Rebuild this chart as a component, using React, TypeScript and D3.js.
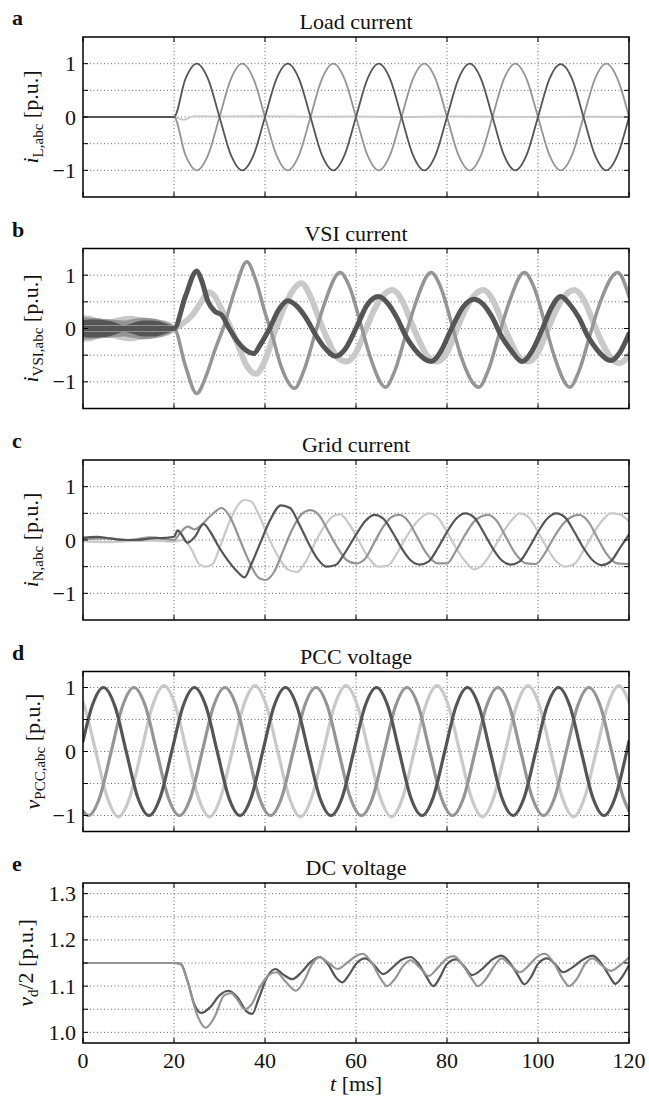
import React from 'react';
import * as d3 from 'd3';

type Pt = [number, number];

const W = 649;
const H = 1097;
const LEFT = 83;
const RIGHT = 629;
const PANEL_TOPS = [37, 248.5, 460, 671.5, 883];
const PANEL_H = 160;
const FONT = "'Liberation Serif', 'Times New Roman', serif";

const C_DARK = '#555555';
const C_MID = '#959595';
const C_LIGHT = '#c9c9c9';

const xTicks = [0, 20, 40, 60, 80, 100, 120];
const acGrid = [-1, -0.5, 0, 0.5, 1];
const acLabels = [-1, 0, 1];
const dcGrid = [1.0, 1.05, 1.1, 1.15, 1.2, 1.25, 1.3];
const dcLabels = [1.0, 1.1, 1.2, 1.3];

// ---------- a: Load current ----------
const aDark: Pt[] = [[0,0],[20,0],[22.5,0.71],[25,1],[27.5,0.71],[30,0],[32.5,-0.71],[35,-1],[37.5,-0.71],[40,0],[42.5,0.71],[45,1],[47.5,0.71],[50,0],[52.5,-0.71],[55,-1],[57.5,-0.71],[60,0],[62.5,0.71],[65,1],[67.5,0.71],[70,0],[72.5,-0.71],[75,-1],[77.5,-0.71],[80,0],[82.5,0.71],[85,1],[87.5,0.71],[90,0],[92.5,-0.71],[95,-1],[97.5,-0.71],[100,0],[102.5,0.71],[105,0.99],[107.5,0.71],[110,0],[112.5,-0.71],[115,-1],[117.5,-0.71],[120,0]];
const aMid: Pt[] = [[0,0],[20,0],[22.5,-0.71],[25,-1],[27.5,-0.71],[30,0],[32.5,0.71],[35,1],[37.5,0.71],[40,0],[42.5,-0.71],[45,-1],[47.5,-0.71],[50,0],[52.5,0.71],[55,1],[57.5,0.71],[60,0],[62.5,-0.71],[65,-1],[67.5,-0.71],[70,0],[72.5,0.71],[75,1],[77.5,0.71],[80,0],[82.5,-0.71],[85,-1],[87.5,-0.71],[90,0],[92.5,0.71],[95,1],[97.5,0.71],[100,0],[102.5,-0.71],[105,-1],[107.5,-0.71],[110,0],[112.5,0.71],[115,1],[117.5,0.71],[120,0]];
const aLight: Pt[] = [[0,0],[20,0],[20.8,-0.02],[21.8,-0.05],[22.8,-0.04],[23.6,0],[25,0.015],[30,0.01],[40,0.015],[50,0.005],[60,0.01],[70,0],[80,0.01],[90,0.005],[100,0],[110,0.005],[120,0]];

// ---------- b: VSI current ----------
const bDark: Pt[] = [[0,0],[20,0],[22.5,0.6],[25,1.08],[26,0.92],[27.5,0.5],[29,0.32],[30.5,0.25],[32,0.02],[34,-0.25],[36,-0.42],[37.5,-0.47],[39,-0.3],[41,0],[43,0.35],[45,0.52],[47,0.42],[49,0.2],[51,-0.1],[53,-0.35],[55.5,-0.52],[57.5,-0.4],[60,0],[62.5,0.45],[65,0.6],[67,0.47],[69,0.2],[71,-0.15],[73,-0.4],[76.5,-0.62],[78.5,-0.45],[81,0],[83.5,0.4],[86,0.55],[88,0.45],[90,0.2],[92,-0.15],[94,-0.4],[96.5,-0.62],[98.5,-0.45],[101,0],[103,0.4],[105,0.6],[107,0.45],[109,0.2],[111,-0.15],[113,-0.4],[116,-0.6],[118,-0.45],[120,-0.1]];
const bMid: Pt[] = [[0,0],[20,0],[22.5,-0.7],[25,-1.22],[27,-0.9],[29,-0.4],[31,0.05],[33.5,0.75],[36,1.25],[38,0.9],[40,0.3],[41.5,-0.1],[43.5,-0.7],[46.5,-1.12],[48.5,-0.8],[51,-0.1],[53,0.45],[56.5,1.05],[58.5,0.8],[61,0.1],[63,-0.5],[66.5,-1.1],[68.5,-0.8],[71,-0.1],[73,0.45],[76.5,1.05],[78.5,0.8],[81,0.1],[83,-0.5],[87,-1.1],[89,-0.8],[91.5,-0.1],[93.5,0.45],[97,1.05],[99,0.8],[101.5,0.1],[103.5,-0.5],[107,-1.1],[109,-0.8],[111.5,-0.1],[113.5,0.45],[117.5,1.05],[120,0.6]];
const bLight: Pt[] = [[0,0],[20,0],[22,0.1],[24,0.25],[26,0.5],[27.5,0.68],[29,0.6],[30.5,0.35],[32,0.1],[34,-0.3],[36,-0.7],[38,-0.85],[40,-0.6],[42,-0.1],[44,0.35],[46,0.7],[48,0.85],[50,0.6],[52,0.15],[54,-0.25],[56,-0.55],[58,-0.62],[60,-0.45],[62,-0.05],[64,0.35],[66,0.62],[68,0.72],[70,0.55],[72,0.15],[74,-0.25],[76,-0.55],[78,-0.62],[80,-0.45],[82,-0.05],[84,0.35],[86,0.62],[88,0.72],[90,0.55],[92,0.15],[94,-0.25],[96,-0.55],[98,-0.62],[100,-0.45],[102,-0.05],[104,0.35],[106,0.62],[108,0.72],[110,0.55],[112,0.15],[114,-0.25],[116,-0.55],[118,-0.65],[120,-0.5]];
// pre-step switching ripple (half-width of the band around zero)
const bBandT = [0, 1.5, 3, 4.5, 6, 7.5, 9, 10.5, 12, 13.5, 15, 16.5, 18, 19.5, 20.5];
const bDarkHW = [0.15, 0.17, 0.17, 0.16, 0.14, 0.1, 0.06, 0.09, 0.13, 0.15, 0.15, 0.14, 0.1, 0.05, 0.01];
const bLightHW = [0.25, 0.24, 0.2, 0.18, 0.18, 0.2, 0.23, 0.24, 0.22, 0.2, 0.18, 0.17, 0.15, 0.1, 0.03];
const bMidHW = [0.21, 0.2, 0.19, 0.18, 0.17, 0.16, 0.15, 0.17, 0.19, 0.2, 0.19, 0.17, 0.13, 0.08, 0.02];

// ---------- c: Grid current ----------
const cDark: Pt[] = [[0,0.04],[3,0.06],[6,0.03],[9,0],[12,0],[15,0.03],[18,0.04],[20,0.06],[20.8,0.18],[21.5,0.12],[23,-0.05],[24.5,0.05],[26.5,0.3],[28,0.15],[30,-0.15],[32,-0.4],[34,-0.6],[35.5,-0.7],[37,-0.45],[39,-0.05],[41,0.35],[43.5,0.65],[45.5,0.6],[47.5,0.3],[49.5,-0.05],[51.5,-0.35],[53.5,-0.5],[55.5,-0.47],[57.5,-0.25],[60,0.1],[62,0.35],[64,0.47],[66,0.4],[68,0.15],[70,-0.15],[72,-0.38],[74,-0.46],[76,-0.4],[78,-0.15],[80,0.15],[82,0.4],[84,0.5],[86,0.42],[88,0.15],[90,-0.15],[92,-0.38],[94,-0.46],[96,-0.4],[98,-0.15],[100,0.15],[102,0.4],[104,0.5],[106,0.42],[108,0.15],[110,-0.15],[112,-0.38],[114,-0.47],[116,-0.4],[118,-0.15],[120,0.1]];
const cMid: Pt[] = [[0,0.02],[5,0.03],[10,0],[15,0.05],[20,0],[21.5,0.15],[23,0.25],[24.5,0.2],[26,0.28],[28,0.45],[30.5,0.6],[32.5,0.4],[34.5,0],[36.5,-0.4],[38.5,-0.7],[40,-0.75],[42,-0.6],[44,-0.2],[46,0.2],[48,0.48],[50,0.56],[52,0.45],[54,0.15],[56,-0.15],[58,-0.38],[60,-0.44],[62,-0.35],[64,-0.05],[66,0.25],[68,0.44],[69.5,0.47],[71.5,0.35],[73.5,0.05],[75.5,-0.25],[78,-0.44],[80,-0.44],[82,-0.2],[84,0.1],[86,0.35],[89,0.47],[91,0.35],[93,0.05],[95,-0.25],[97.5,-0.44],[99.5,-0.45],[101.5,-0.25],[103.5,0.05],[105.5,0.3],[109,0.47],[111,0.35],[113,0.05],[115,-0.25],[117.5,-0.44],[120,-0.45]];
const cLight: Pt[] = [[0,-0.02],[5,-0.04],[10,-0.02],[15,-0.01],[20,-0.03],[22,0],[24,-0.2],[25.5,-0.45],[27,-0.5],[28.5,-0.45],[30,-0.15],[32,0.3],[34,0.65],[35.5,0.75],[37,0.72],[38.5,0.5],[40.5,0.1],[42.5,-0.25],[45,-0.55],[47,-0.6],[49,-0.4],[51,-0.05],[53,0.25],[55,0.45],[56.5,0.48],[58.5,0.3],[60.5,0],[62.5,-0.3],[65,-0.5],[67,-0.48],[69,-0.25],[71,0.05],[73,0.3],[76,0.5],[78,0.42],[80,0.15],[82,-0.15],[84,-0.4],[86,-0.55],[88,-0.45],[90,-0.2],[92,0.1],[94,0.35],[96,0.5],[98,0.42],[100,0.15],[102,-0.15],[104,-0.4],[106,-0.5],[108,-0.45],[110,-0.2],[112,0.1],[114,0.35],[116,0.5],[118,0.48],[120,0.35]];

// ---------- d: PCC voltage ----------
const dDark: Pt[] = [[0,0.16],[2,0.71],[4.5,1],[7,0.71],[9.5,0],[12,-0.71],[14.5,-1],[17,-0.71],[19.5,0],[22,0.71],[24.5,1],[27,0.71],[29.5,0],[32,-0.71],[34.5,-1],[37,-0.71],[39.5,0],[42,0.71],[44.5,1],[47,0.71],[49.5,0],[52,-0.71],[54.5,-1],[57,-0.71],[59.5,0],[62,0.71],[64.5,1],[67,0.71],[69.5,0],[72,-0.71],[74.5,-1],[77,-0.71],[79.5,0],[82,0.71],[84.5,1],[87,0.71],[89.5,0],[92,-0.71],[94.5,-1],[97,-0.71],[99.5,0],[102,0.71],[104.5,1],[107,0.71],[109.5,0],[112,-0.71],[114.5,-1],[117,-0.71],[119.5,0],[120,0.16]];
const dMid: Pt[] = [[0,-0.93],[1.2,-1],[3.7,-0.71],[6.2,0],[8.7,0.71],[11.2,1],[13.7,0.71],[16.2,0],[18.7,-0.71],[21.2,-1],[23.7,-0.71],[26.2,0],[28.7,0.71],[31.2,1],[33.7,0.71],[36.2,0],[38.7,-0.71],[41.2,-1],[43.7,-0.71],[46.2,0],[48.7,0.71],[51.2,1],[53.7,0.71],[56.2,0],[58.7,-0.71],[61.2,-1],[63.7,-0.71],[66.2,0],[68.7,0.71],[71.2,1],[73.7,0.71],[76.2,0],[78.7,-0.71],[81.2,-1],[83.7,-0.71],[86.2,0],[88.7,0.71],[91.2,1],[93.7,0.71],[96.2,0],[98.7,-0.71],[101.2,-1],[103.7,-0.71],[106.2,0],[108.7,0.71],[111.2,1],[113.7,0.71],[116.2,0],[118.7,-0.71],[120,-0.93]];
const dLight: Pt[] = [[0,0.77],[0.3,0.71],[2.8,0],[5.3,-0.71],[7.8,-1.02],[10.3,-0.71],[12.8,0],[15.3,0.72],[17.8,1.03],[20.3,0.72],[22.8,0],[25.3,-0.71],[27.8,-1.02],[30.3,-0.71],[32.8,0],[35.3,0.72],[37.8,1.03],[40.3,0.72],[42.8,0],[45.3,-0.71],[47.8,-1.02],[50.3,-0.71],[52.8,0],[55.3,0.72],[57.8,1.03],[60.3,0.72],[62.8,0],[65.3,-0.71],[67.8,-1.02],[70.3,-0.71],[72.8,0],[75.3,0.72],[77.8,1.03],[80.3,0.72],[82.8,0],[85.3,-0.71],[87.8,-1.02],[90.3,-0.71],[92.8,0],[95.3,0.72],[97.8,1.03],[100.3,0.72],[102.8,0],[105.3,-0.71],[107.8,-1.02],[110.3,-0.71],[112.8,0],[115.3,0.72],[117.8,1.03],[120,0.77]];

// ---------- e: DC voltage ----------
const eDark: Pt[] = [[0,1.15],[20,1.15],[21.5,1.148],[23,1.11],[24.5,1.06],[26,1.042],[28,1.055],[30,1.08],[32,1.09],[34,1.075],[36,1.045],[37.2,1.04],[38.5,1.07],[40.5,1.12],[42.3,1.137],[44,1.125],[46,1.115],[48,1.13],[50,1.152],[52,1.163],[54,1.145],[55.5,1.12],[57,1.108],[58.5,1.125],[60,1.148],[62,1.16],[64,1.145],[66,1.126],[68,1.14],[70,1.157],[72,1.163],[74,1.145],[75.5,1.12],[77,1.1],[78.5,1.12],[80,1.148],[82,1.158],[84,1.14],[85.5,1.124],[87.5,1.135],[90,1.158],[92,1.166],[94,1.148],[95.5,1.125],[97,1.104],[98.5,1.12],[100,1.148],[102,1.16],[104,1.145],[105.5,1.13],[107.5,1.14],[110,1.158],[112,1.166],[114,1.148],[115.5,1.125],[117,1.105],[118.5,1.12],[120,1.145]];
const eMid: Pt[] = [[0,1.15],[20,1.15],[21.5,1.147],[23,1.11],[25,1.04],[27,1.01],[29,1.035],[31,1.08],[32.5,1.085],[34,1.07],[35.5,1.05],[37,1.06],[39,1.1],[41,1.125],[42.5,1.13],[44.5,1.11],[46.8,1.09],[48.5,1.11],[50.5,1.15],[52,1.162],[54,1.15],[56,1.137],[58,1.15],[60,1.165],[61.5,1.17],[63.5,1.15],[65.5,1.115],[66.8,1.1],[68.5,1.115],[70.5,1.145],[72,1.156],[74,1.14],[76,1.122],[78,1.14],[80,1.16],[81.5,1.165],[83.5,1.145],[85.5,1.115],[86.8,1.1],[88.5,1.115],[90.5,1.145],[92,1.16],[94,1.145],[96,1.13],[98,1.145],[100,1.165],[101.5,1.17],[103.5,1.15],[105.5,1.115],[106.8,1.1],[108.5,1.115],[110.5,1.15],[112,1.16],[114,1.145],[116,1.133],[118,1.145],[120,1.162]];

type Series = { data: Pt[]; color: string; width: number };
type Band = { t: number[]; hw: number[]; color: string };

interface PanelProps {
  idx: number;
  top: number;
  yDomain: [number, number];
  yGrid: number[];
  yLabels: number[];
  fmt: (v: number) => string;
  series: Series[];
  bands?: Band[];
  title: string;
  letter: string;
  yMain: string;
  ySub: string;
  yRest: string;
  yLabelX: number;
  showX: boolean;
}

function Panel(p: PanelProps) {
  const x = d3.scaleLinear().domain([0, 120]).range([LEFT, RIGHT]);
  const y = d3.scaleLinear().domain(p.yDomain).range([p.top + PANEL_H, p.top]);
  const line = d3.line<Pt>().x((d) => x(d[0])).y((d) => y(d[1])).curve(d3.curveMonotoneX);
  const bottom = p.top + PANEL_H;
  const cx = (LEFT + RIGHT) / 2;
  const cy = p.top + PANEL_H / 2;
  const clipId = `clip-${p.idx}`;
  const tickLen = 5;
  return (
    <g>
      <defs>
        <clipPath id={clipId}>
          <rect x={LEFT} y={p.top} width={RIGHT - LEFT} height={PANEL_H} />
        </clipPath>
      </defs>
      {xTicks.slice(1, -1).map((t) => (
        <line key={'gx' + t} x1={x(t)} x2={x(t)} y1={p.top} y2={bottom} stroke="#666" strokeWidth={1} strokeDasharray="1,2.5" />
      ))}
      {p.yGrid.map((v) => (
        <line key={'gy' + v} x1={LEFT} x2={RIGHT} y1={y(v)} y2={y(v)} stroke="#666" strokeWidth={1} strokeDasharray="1,2.5" />
      ))}
      <g clipPath={`url(#${clipId})`}>
        {(p.bands || []).map((b, i) => {
          const pts = b.t.map((t, k) => ({ t, lo: -b.hw[k], hi: b.hw[k] }));
          const area = d3
            .area<{ t: number; lo: number; hi: number }>()
            .x((d) => x(d.t))
            .y0((d) => y(d.lo))
            .y1((d) => y(d.hi))
            .curve(d3.curveMonotoneX);
          return <path key={'b' + i} d={area(pts) || ''} fill={b.color} />;
        })}
        {p.series.map((s, i) => (
          <path
            key={'s' + i}
            d={line(s.data) || ''}
            fill="none"
            stroke={s.color}
            strokeWidth={s.width}
            strokeLinejoin="round"
            strokeLinecap="round"
          />
        ))}
      </g>
      {xTicks.map((t) => (
        <g key={'tx' + t}>
          <line x1={x(t)} x2={x(t)} y1={bottom} y2={bottom - tickLen} stroke="#000" strokeWidth={1} />
          <line x1={x(t)} x2={x(t)} y1={p.top} y2={p.top + tickLen} stroke="#000" strokeWidth={1} />
        </g>
      ))}
      {p.yGrid.map((v) => (
        <g key={'ty' + v}>
          <line x1={LEFT} x2={LEFT + tickLen} y1={y(v)} y2={y(v)} stroke="#000" strokeWidth={1} />
          <line x1={RIGHT} x2={RIGHT - tickLen} y1={y(v)} y2={y(v)} stroke="#000" strokeWidth={1} />
        </g>
      ))}
      <rect x={LEFT} y={p.top} width={RIGHT - LEFT} height={PANEL_H} fill="none" stroke="#000" strokeWidth={1.5} />
      {p.yLabels.map((v) => (
        <text key={'ly' + v} x={76} y={y(v) + 7.5} textAnchor="end" fontSize={22} fontFamily={FONT} fill="#111">
          {p.fmt(v)}
        </text>
      ))}
      {p.showX &&
        xTicks.map((t) => (
          <text key={'lx' + t} x={x(t)} y={bottom + 25} textAnchor="middle" fontSize={22} fontFamily={FONT} fill="#111">
            {String(t)}
          </text>
        ))}
      {p.showX && (
        <text x={cx} y={bottom + 48} textAnchor="middle" fontSize={22} fontFamily={FONT} fill="#111">
          <tspan fontStyle="italic">t</tspan>
          <tspan> [ms]</tspan>
        </text>
      )}
      <text x={cx} y={p.top - 8} textAnchor="middle" fontSize={22} fontFamily={FONT} fill="#111">
        {p.title}
      </text>
      <text x={12} y={p.top - 12} fontSize={22} fontWeight="bold" fontFamily={FONT} fill="#111">
        {p.letter}
      </text>
      <text
        transform={`translate(${p.yLabelX},${cy}) rotate(-90)`}
        textAnchor="middle"
        fontSize={22}
        fontFamily={FONT}
        fill="#111"
      >
        <tspan fontStyle="italic">{p.yMain}</tspan>
        <tspan fontSize={15} dy={5}>
          {p.ySub}
        </tspan>
        <tspan dy={-5}>{p.yRest}</tspan>
      </text>
    </g>
  );
}

const acFmt = (v: number) => (v < 0 ? '\u2212' + Math.abs(v) : String(v));
const dcFmt = (v: number) => v.toFixed(1);

export default function App() {
  return (
    <div style={{ position: 'absolute', left: 0, top: 0, width: W, height: H, background: '#fff' }}>
      <svg width={W} height={H} viewBox={`0 0 ${W} ${H}`}>
        <rect x={0} y={0} width={W} height={H} fill="#fff" />
        <Panel
          idx={0}
          top={PANEL_TOPS[0]}
          yDomain={[-1.5, 1.5]}
          yGrid={acGrid}
          yLabels={acLabels}
          fmt={acFmt}
          series={[
            { data: aLight, color: C_LIGHT, width: 1.8 },
            { data: aMid, color: C_MID, width: 1.8 },
            { data: aDark, color: C_DARK, width: 1.8 },
          ]}
          title="Load current"
          letter="a"
          yMain="i"
          ySub="L,abc"
          yRest=" [p.u.]"
          yLabelX={38}
          showX={false}
        />
        <Panel
          idx={1}
          top={PANEL_TOPS[1]}
          yDomain={[-1.5, 1.5]}
          yGrid={acGrid}
          yLabels={acLabels}
          fmt={acFmt}
          bands={[
            { t: bBandT, hw: bLightHW, color: C_LIGHT },
            { t: bBandT, hw: bMidHW, color: C_MID },
            { t: bBandT, hw: bDarkHW, color: C_DARK },
          ]}
          series={[
            { data: bLight, color: C_LIGHT, width: 6 },
            { data: bMid, color: C_MID, width: 3.5 },
            { data: bDark, color: C_DARK, width: 5 },
          ]}
          title="VSI current"
          letter="b"
          yMain="i"
          ySub="VSI,abc"
          yRest=" [p.u.]"
          yLabelX={38}
          showX={false}
        />
        <Panel
          idx={2}
          top={PANEL_TOPS[2]}
          yDomain={[-1.5, 1.5]}
          yGrid={acGrid}
          yLabels={acLabels}
          fmt={acFmt}
          series={[
            { data: cLight, color: C_LIGHT, width: 2.2 },
            { data: cMid, color: C_MID, width: 2.2 },
            { data: cDark, color: C_DARK, width: 2.2 },
          ]}
          title="Grid current"
          letter="c"
          yMain="i"
          ySub="N,abc"
          yRest=" [p.u.]"
          yLabelX={38}
          showX={false}
        />
        <Panel
          idx={3}
          top={PANEL_TOPS[3]}
          yDomain={[-1.25, 1.25]}
          yGrid={acGrid}
          yLabels={acLabels}
          fmt={acFmt}
          series={[
            { data: dLight, color: C_LIGHT, width: 3.2 },
            { data: dMid, color: C_MID, width: 3.2 },
            { data: dDark, color: C_DARK, width: 3.2 },
          ]}
          title="PCC voltage"
          letter="d"
          yMain="v"
          ySub="PCC,abc"
          yRest=" [p.u.]"
          yLabelX={40}
          showX={false}
        />
        <Panel
          idx={4}
          top={PANEL_TOPS[4]}
          yDomain={[0.977, 1.323]}
          yGrid={dcGrid}
          yLabels={dcLabels}
          fmt={dcFmt}
          series={[
            { data: eDark, color: C_DARK, width: 2.2 },
            { data: eMid, color: C_MID, width: 2.2 },
          ]}
          title="DC voltage"
          letter="e"
          yMain="v"
          ySub="d"
          yRest="/2 [p.u.]"
          yLabelX={33}
          showX={true}
        />
      </svg>
    </div>
  );
}
